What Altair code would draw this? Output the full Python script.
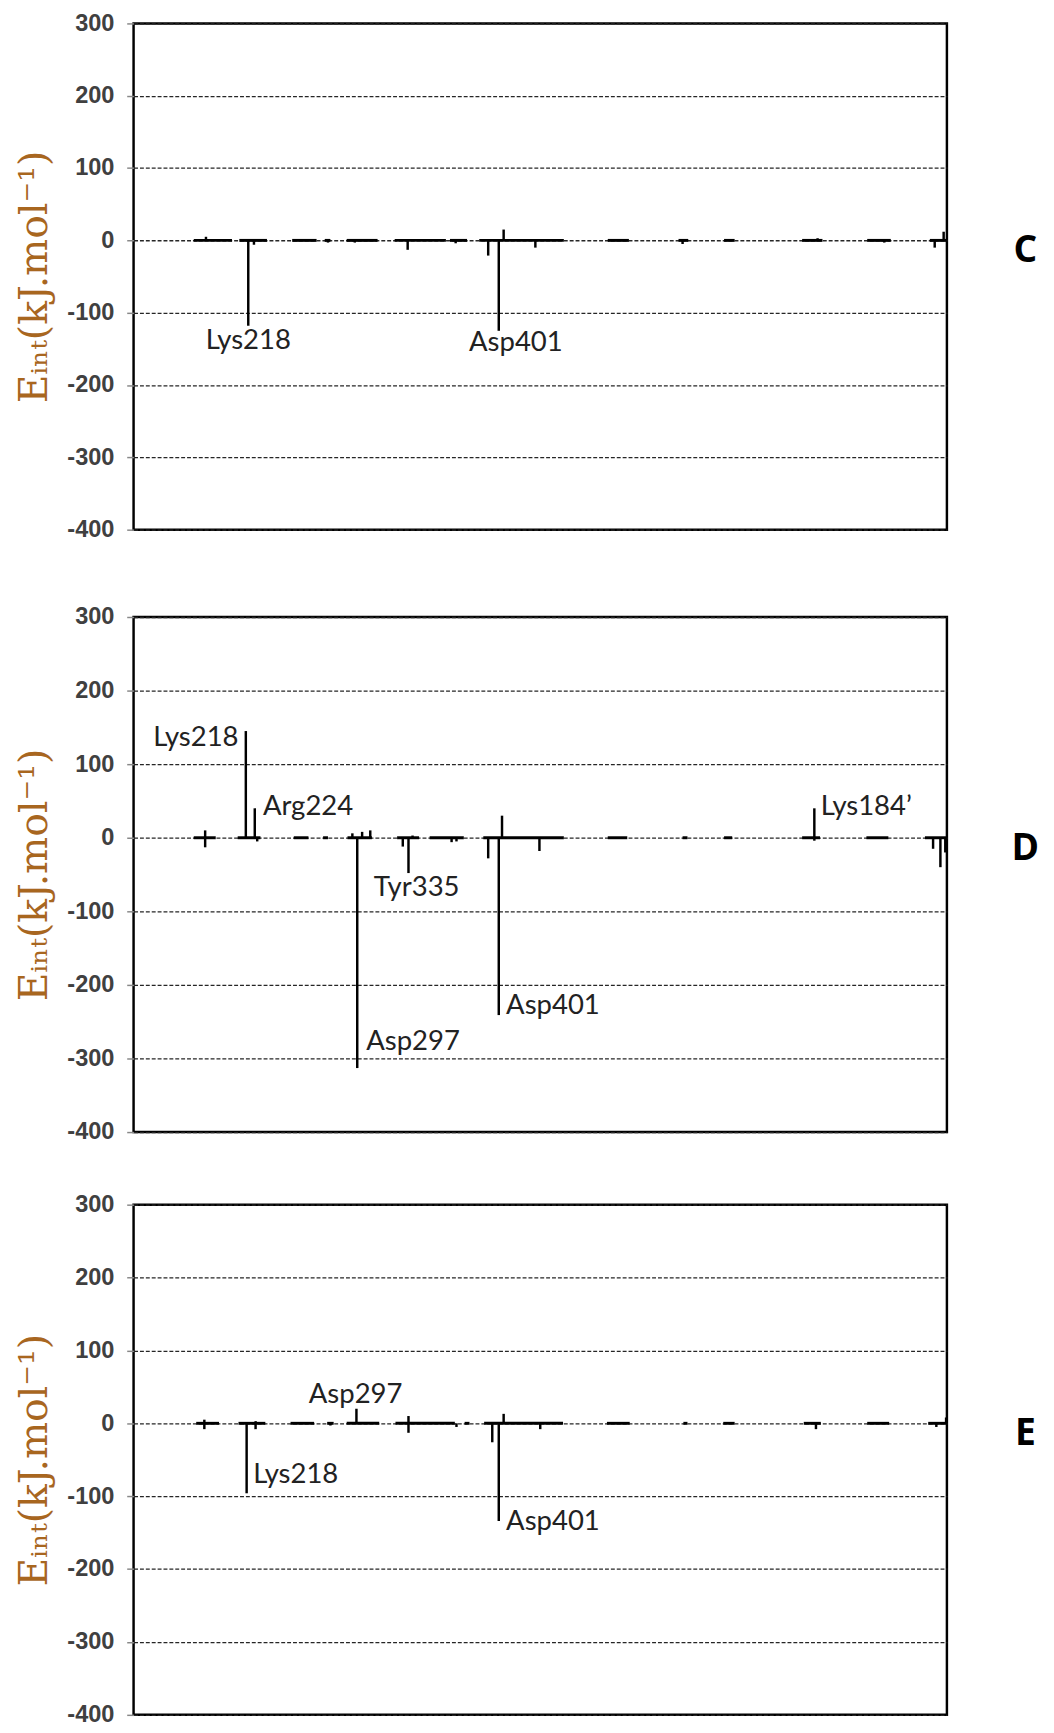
import altair as alt
import pandas as pd

Y_TICKS = [-400, -300, -200, -100, 0, 100, 200, 300]
Y_TITLE = "Eᵢₙₜ(kJ.mol⁻¹)"

# ---------------- Panel C ----------------
C_SEG_START = [7.4, 13.0, 19.5, 23.5, 26.2, 32.1, 38.9, 42.5, 58.3, 67.0, 72.6, 82.2, 90.2, 97.9]
C_SEG_END = [12.1, 16.4, 22.5, 24.2, 30.0, 38.4, 41.0, 52.9, 60.9, 68.2, 73.9, 84.7, 93.1, 100]
C_SPIKE_X = [8.9, 14.1, 14.8, 23.9, 27.2, 33.7, 39.6, 43.6, 44.9, 45.5, 49.4, 67.5, 84.1, 92.3, 98.5, 99.6]
C_SPIKE_Y = [5, -118, -6, -3, -3, -13, -4, -21, -125, 15, -10, -5, 3, -3, -10, 12]
C_LABELS = ["Lys218", "Asp401"]
C_LABEL_X = [14.1, 47.0]
C_LABEL_Y = [-139, -142]
C_LABEL_ALIGN = ["center", "center"]

# ---------------- Panel D ----------------
D_SEG_START = [7.4, 12.8, 19.7, 23.3, 26.3, 32.4, 36.4, 43.0, 58.3, 67.5, 72.6, 82.2, 90.1, 97.3]
D_SEG_END = [10.1, 15.6, 21.5, 23.9, 29.3, 35.1, 40.6, 52.9, 60.7, 68.1, 73.6, 84.4, 92.8, 100]
D_SPIKE_X = [8.8, 8.8, 13.8, 14.9, 15.2, 26.9, 27.5, 28.1, 29.1, 33.1, 33.8, 34.3, 39.1, 39.7,
             43.6, 44.9, 45.3, 49.9, 83.7, 83.7, 98.3, 99.2, 99.8]
D_SPIKE_Y = [10, -13, 145, 40, -5, 6, -313, 8, 10, -12, -48, 3, -6, -5,
             -28, -241, 30, -18, 40, -4, -15, -40, -20]
D_LABELS = ["Lys218", "Arg224", "Tyr335", "Asp297", "Asp401", "Lys184’"]
D_LABEL_X = [12.9, 15.9, 34.8, 28.6, 45.8, 84.5]
D_LABEL_Y = [135, 41, -68, -278, -229, 42]
D_LABEL_ALIGN = ["right", "left", "center", "left", "left", "left"]

# ---------------- Panel E ----------------
E_SEG_START = [7.7, 12.9, 19.3, 23.8, 26.2, 32.2, 40.7, 43.1, 58.2, 67.6, 72.5, 82.4, 90.2, 97.7]
E_SEG_END = [10.5, 16.2, 22.2, 24.6, 30.2, 39.5, 41.3, 52.8, 61.0, 68.1, 73.9, 84.5, 92.9, 100]
E_SPIKE_X = [8.7, 8.7, 13.9, 15.0, 15.0, 24.2, 27.4, 33.8, 33.8, 39.7, 44.1, 44.9, 45.5, 50.0,
             83.9, 98.7, 99.9]
E_SPIKE_Y = [5, -8, -96, -8, 3, -3, 20, 10, -13, -5, -26, -134, 13, -8,
             -8, -5, 8]
E_LABELS = ["Asp297", "Lys218", "Asp401"]
E_LABEL_X = [27.3, 14.7, 45.8]
E_LABEL_Y = [39, -71, -135]
E_LABEL_ALIGN = ["center", "left", "left"]

W = 829


def make_yaxis():
    return alt.Axis(
        values=Y_TICKS, title=Y_TITLE, grid=True, domain=False,
        labelExpr="'' + datum.value",
        labelFont="Liberation Sans", labelFontSize=24, labelFontWeight="bold",
        labelColor="#404040", labelPadding=13,
        tickColor="#888888", tickSize=7, tickWidth=1.5,
        gridColor="#262626", gridDash=[4, 2], gridWidth=1.3,
        titleFont="DejaVu Serif", titleFontSize=40, titleFontWeight="normal",
        titleColor="#a8661f", titlePadding=13,
    )


def panel(seg_s, seg_e, sx, sy, lt, lx, ly, la, letter, h):
    xs = alt.Scale(domain=[0, 100], nice=False, zero=False)
    ys = alt.Scale(domain=[-400, 300], nice=False, zero=False)
    seg = pd.DataFrame({"x": seg_s, "x2": seg_e, "y": [0] * len(seg_s)})
    spk = pd.DataFrame({"x": sx, "y": sy, "y0": [0] * len(sx)})
    lab = pd.DataFrame({"t": lt, "x": lx, "y": ly, "a": la})

    seg_layer = alt.Chart(seg).mark_rule(color="black", strokeWidth=3, strokeCap="butt").encode(
        x=alt.X("x:Q", scale=xs, axis=None),
        x2="x2:Q",
        y=alt.Y("y:Q", scale=ys, axis=make_yaxis()),
    )
    spk_layer = alt.Chart(spk).mark_rule(color="black", strokeWidth=2.5, strokeCap="butt").encode(
        x=alt.X("x:Q", scale=xs, axis=None),
        y=alt.Y("y0:Q", scale=ys, axis=make_yaxis()),
        y2="y:Q",
    )
    layers = [seg_layer, spk_layer]
    for al in ["left", "center", "right"]:
        sub = lab[lab.a == al]
        if len(sub):
            layers.append(
                alt.Chart(sub).mark_text(
                    align=al, baseline="middle", font="Lato", fontSize=28, color="#222222"
                ).encode(
                    x=alt.X("x:Q", scale=xs, axis=None),
                    y=alt.Y("y:Q", scale=ys, axis=make_yaxis()),
                    text="t:N",
                )
            )
    letter_df = pd.DataFrame({"t": [letter], "y": [-15]})
    layers.append(
        alt.Chart(letter_df).mark_text(
            align="center", baseline="middle", font="Open Sans", fontSize=38,
            fontWeight="bold", color="black"
        ).encode(
            x=alt.value(W + 80),
            y=alt.Y("y:Q", scale=ys, axis=make_yaxis()),
            text="t:N",
        )
    )
    return alt.layer(*layers).properties(width=W, height=h)


pc = panel(C_SEG_START, C_SEG_END, C_SPIKE_X, C_SPIKE_Y, C_LABELS, C_LABEL_X, C_LABEL_Y, C_LABEL_ALIGN, "C", 516)
pd_ = panel(D_SEG_START, D_SEG_END, D_SPIKE_X, D_SPIKE_Y, D_LABELS, D_LABEL_X, D_LABEL_Y, D_LABEL_ALIGN, "D", 525)
pe = panel(E_SEG_START, E_SEG_END, E_SPIKE_X, E_SPIKE_Y, E_LABELS, E_LABEL_X, E_LABEL_Y, E_LABEL_ALIGN, "E", 520)

chart = alt.vconcat(
    alt.vconcat(pc, pd_, spacing=61), pe, spacing=46
).properties(
    padding={"top": -15, "left": 5, "right": 5, "bottom": 0}
).configure_view(stroke="black", strokeWidth=2.5)

chart.save("out.html", embed_options={"renderer": "svg", "actions": False})
